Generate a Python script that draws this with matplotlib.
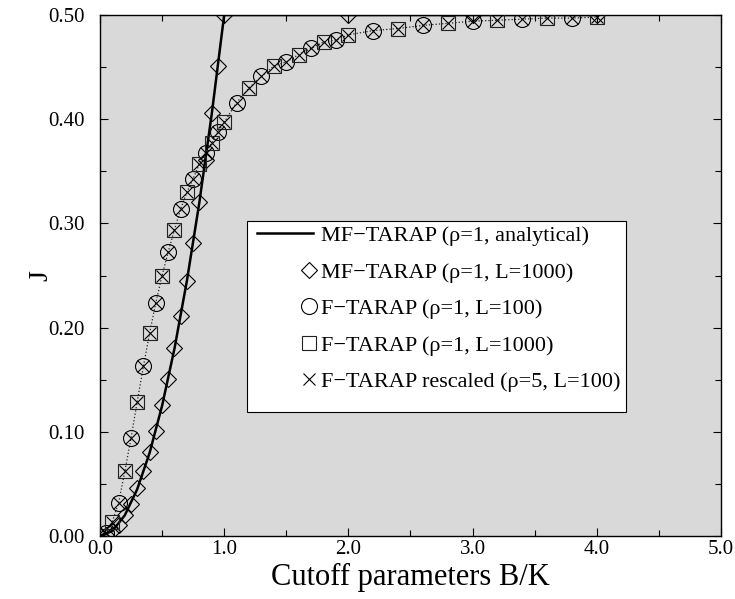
"""
J versus cutoff parameter B/K for MF-TARAP and F-TARAP
"""
import matplotlib
matplotlib.use('Agg')
import matplotlib.pyplot as plt
from matplotlib.legend_handler import HandlerLine2D
from matplotlib.lines import Line2D
from matplotlib.patches import Rectangle
from matplotlib.ticker import MultipleLocator, FormatStrFormatter

plt.rcParams['font.family'] = ['Liberation Serif', 'DejaVu Serif']

# MF-TARAP analytical curve
x_analytic = [0.0, 0.1, 0.2, 0.3, 0.4, 0.5, 0.6, 0.7, 0.8, 0.9, 1.0, 2.0, 3.0, 4.0]
j_analytic = [0.0, 0.005, 0.02, 0.045, 0.08, 0.125, 0.18, 0.245, 0.32, 0.405, 0.5, 0.5, 0.5, 0.5]

# MF-TARAP simulation, L=1000 (diamonds)
x_mf = [0.0, 0.05, 0.1, 0.15, 0.2, 0.25, 0.3, 0.35, 0.4, 0.45, 0.5, 0.55, 0.6, 0.65,
        0.7, 0.75, 0.8, 0.85, 0.9, 0.95, 1.0, 2.0, 3.0, 4.0]
j_mf = [0.0, 0.001, 0.005, 0.011, 0.02, 0.031, 0.046, 0.062, 0.081, 0.101, 0.126, 0.151,
        0.180, 0.211, 0.245, 0.281, 0.321, 0.361, 0.406, 0.451, 0.5, 0.5, 0.5, 0.5]

# F-TARAP, L=100 (circles)
x_f100 = [0.05, 0.15, 0.25, 0.35, 0.45, 0.55, 0.65, 0.75, 0.85, 0.95, 1.1, 1.3, 1.5,
          1.7, 1.9, 2.2, 2.6, 3.0, 3.4, 3.8]
j_f100 = [0.003, 0.032, 0.094, 0.163, 0.224, 0.273, 0.314, 0.343, 0.368, 0.388, 0.416,
          0.441, 0.455, 0.468, 0.476, 0.485, 0.490, 0.494, 0.496, 0.497]

# F-TARAP, L=1000 (squares)
x_f1000 = [0.0, 0.1, 0.2, 0.3, 0.4, 0.5, 0.6, 0.7, 0.8, 0.9, 1.0, 1.2, 1.4, 1.6, 1.8,
           2.0, 2.4, 2.8, 3.2, 3.6, 4.0]
j_f1000 = [0.0, 0.014, 0.062, 0.129, 0.195, 0.250, 0.294, 0.330, 0.357, 0.377, 0.397,
           0.430, 0.451, 0.462, 0.474, 0.481, 0.487, 0.492, 0.495, 0.497, 0.498]

# F-TARAP rescaled, rho=5, L=100 (crosses)
x_resc = [0.0, 0.05, 0.1, 0.15, 0.2, 0.25, 0.3, 0.35, 0.4, 0.45, 0.5, 0.55, 0.6, 0.65,
          0.7, 0.75, 0.8, 0.85, 0.9, 0.95, 1.0, 1.1, 1.2, 1.3, 1.4, 1.5, 1.6, 1.7, 1.8,
          1.9, 2.0, 2.2, 2.4, 2.6, 2.8, 3.0, 3.2, 3.4, 3.6, 3.8, 4.0]
j_resc = [0.0, 0.003, 0.014, 0.032, 0.062, 0.094, 0.129, 0.163, 0.195, 0.224, 0.250,
          0.273, 0.294, 0.314, 0.330, 0.343, 0.357, 0.368, 0.377, 0.388, 0.397, 0.416,
          0.430, 0.441, 0.451, 0.455, 0.462, 0.468, 0.474, 0.476, 0.481, 0.485, 0.487,
          0.490, 0.492, 0.494, 0.495, 0.496, 0.497, 0.497, 0.498]

labels = ['MF\u2212TARAP (\u03c1=1, analytical)',
          'MF\u2212TARAP (\u03c1=1, L=1000)',
          'F\u2212TARAP (\u03c1=1, L=100)',
          'F\u2212TARAP (\u03c1=1, L=1000)',
          'F\u2212TARAP rescaled (\u03c1=5, L=100)']


class MarkerAtRight(HandlerLine2D):
    # single legend marker drawn at the right end of the handle box
    def create_artists(self, legend, orig_handle, xdescent, ydescent,
                       width, height, fontsize, trans):
        x = -xdescent + width - 0.2 * fontsize
        y = (height - ydescent) / 2
        mark = Line2D([x], [y])
        self.update_prop(mark, orig_handle, legend)
        mark.set_linestyle('none')
        mark.set_transform(trans)
        return [mark]


fig = plt.figure(figsize=(7.35, 5.99), dpi=100)
ax = fig.add_axes([0.136, 0.105, 0.845, 0.87])
ax.set_facecolor('#d9d9d9')

ax.plot(x_resc, j_resc, linestyle=':', color='#222222', linewidth=0.9, zorder=2)
line_an, = ax.plot(x_analytic, j_analytic, color='black', linewidth=1.8, zorder=3,
                   label=labels[0])
m_mf, = ax.plot(x_mf, j_mf, linestyle='none', marker='D', markersize=8.5,
                markerfacecolor='none', markeredgecolor='black', markeredgewidth=0.8,
                zorder=4, label=labels[1])
m_c, = ax.plot(x_f100, j_f100, linestyle='none', marker='o', markersize=11.5,
               markerfacecolor='none', markeredgecolor='black', markeredgewidth=0.8,
               zorder=4, label=labels[2])
m_s, = ax.plot(x_f1000, j_f1000, linestyle='none', marker='s', markersize=10,
               markerfacecolor='none', markeredgecolor='#222222', markeredgewidth=0.8,
               zorder=4, label=labels[3])
m_x, = ax.plot(x_resc, j_resc, linestyle='none', marker='x', markersize=8,
               markeredgecolor='black', markeredgewidth=0.8, zorder=5, label=labels[4])

ax.set_xlim(0, 5)
ax.set_ylim(0, 0.5)
ax.xaxis.set_major_locator(MultipleLocator(1.0))
ax.xaxis.set_minor_locator(MultipleLocator(0.5))
ax.yaxis.set_major_locator(MultipleLocator(0.1))
ax.yaxis.set_minor_locator(MultipleLocator(0.05))
ax.xaxis.set_major_formatter(FormatStrFormatter('%.1f'))
ax.yaxis.set_major_formatter(FormatStrFormatter('%.2f'))
ax.tick_params(which='both', direction='in', top=True, right=True, labelsize=15,
               width=0.8)
ax.tick_params(which='major', length=6)
ax.tick_params(which='minor', length=4)
ax.tick_params(axis='x', pad=3)
ax.tick_params(axis='y', pad=11)
for s in ax.spines.values():
    s.set_linewidth(1.0)

ax.set_xlabel('Cutoff parameters B/K', fontsize=22, labelpad=3)
ax.set_ylabel('J', fontsize=20, labelpad=-4)

# legend box (drawn by hand, the original has extra room at the bottom)
box = Rectangle((0.2367, 0.239), 0.611, 0.3656, transform=ax.transAxes,
                facecolor='white', edgecolor='black', linewidth=0.8, zorder=6)
ax.add_patch(box)

marker_handler = MarkerAtRight()
leg = ax.legend(handles=[line_an, m_mf, m_c, m_s, m_x], loc='upper left',
                bbox_to_anchor=(0.2464, 0.6046), borderaxespad=0, fontsize=16,
                frameon=False, handlelength=2.5, handletextpad=0.35,
                labelspacing=0.72, borderpad=0.2,
                handler_map={m_mf: marker_handler, m_c: marker_handler,
                             m_s: marker_handler, m_x: marker_handler})
leg.set_zorder(7)

fig.savefig('out.png', dpi=100)
